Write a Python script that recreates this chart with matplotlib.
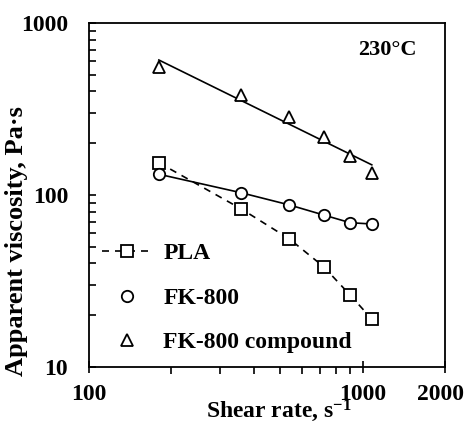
import numpy as np
import matplotlib
matplotlib.use("Agg")
import matplotlib.pyplot as plt
import matplotlib.transforms as mtransforms
from matplotlib.ticker import FixedLocator, NullFormatter, LogLocator

plt.rcParams['font.family'] = ['Liberation Serif', 'DejaVu Serif']
plt.rcParams['font.weight'] = 'bold'
plt.rcParams['axes.labelweight'] = 'bold'
plt.rcParams['mathtext.fontset'] = 'custom'
plt.rcParams['mathtext.rm'] = 'Liberation Serif:bold'
plt.rcParams['mathtext.bf'] = 'Liberation Serif:bold'
plt.rcParams['mathtext.default'] = 'bf'

# shear rate (1/s) and apparent viscosity (Pa.s) at 230 C
shear_rate = [180, 360, 540, 720, 900, 1080]
visc_pla = [154, 83, 55.5, 38.3, 26.2, 19.0]
visc_fk800 = [132, 103, 87.5, 76.5, 69.0, 67.8]
visc_compound = [555, 381, 284, 217, 169, 134]

FS = 17

fig = plt.figure(figsize=(4.65, 4.25), dpi=100)
ax = fig.add_axes([0.1914, 0.1365, 0.7656, 0.8095])

mk = dict(markersize=8.2, markeredgewidth=1.3, markerfacecolor='white',
          markeredgecolor='black', color='black')

ax.plot(shear_rate, visc_pla, linestyle=(0, (4.2, 3.6)), linewidth=1.2,
        marker='s', label='PLA', **mk)
ax.plot(shear_rate, visc_fk800, linestyle='-', linewidth=1.2, marker='o', **mk)
ax.plot([], [], linestyle='none', marker='o', label='FK-800', **mk)

# power-law fit for the compound
x = np.array(shear_rate, dtype=float)
slope, icpt = np.polyfit(np.log10(x), np.log10(visc_compound), 1)
ax.plot(x, 10 ** (icpt + slope * np.log10(x)), color='black', linewidth=1.2, zorder=1)
ax.plot(shear_rate, visc_compound, linestyle='none', marker='^',
        label='FK-800 compound', **mk)

ax.set_xscale('log')
ax.set_yscale('log')
ax.set_xlim(100, 2000)
ax.set_ylim(10, 1000)

ax.xaxis.set_major_locator(FixedLocator([100, 1000, 2000]))
ax.set_xticklabels(['100', '1000', '2000'], fontsize=FS)
ax.xaxis.set_minor_locator(FixedLocator([200, 300, 400, 500, 600, 700, 800, 900]))
ax.xaxis.set_minor_formatter(NullFormatter())
ax.yaxis.set_major_locator(FixedLocator([10, 100, 1000]))
ax.set_yticklabels(['10', '100', '1000'], fontsize=FS)
ax.yaxis.set_minor_locator(LogLocator(base=10, subs=np.arange(2, 10)))
ax.yaxis.set_minor_formatter(NullFormatter())

ax.tick_params(axis='x', which='major', direction='inout', length=8, width=1.2, pad=8)
ax.tick_params(axis='x', which='minor', direction='out', length=5, width=1.2)
ax.tick_params(axis='y', which='both', direction='in', length=5, width=1.2, pad=15)
for s in ax.spines.values():
    s.set_linewidth(1.3)

# keep the last x label inside the figure
last = ax.get_xticklabels()[-1]
last.set_transform(last.get_transform() +
                   mtransforms.ScaledTranslation(-5 / 100, 0, fig.dpi_scale_trans))

ax.set_xlabel(r'Shear rate, s$^{-1}$', fontsize=FS, fontweight='bold')
ax.xaxis.set_label_coords(0.534, -0.088)
ax.set_ylabel('Apparent viscosity, Pa·s', fontsize=19, fontweight='bold')
ax.yaxis.set_label_coords(-0.172, 0.366)

ax.text(0.92, 0.92, '230°C', transform=ax.transAxes, ha='right', va='center',
        fontsize=FS - 1, fontweight='bold')

leg = ax.legend(loc='lower left', bbox_to_anchor=(-0.01, -0.008), frameon=False,
                fontsize=FS, handlelength=2.1, handletextpad=0.5, labelspacing=0.97,
                borderaxespad=0.3)

fig.savefig('out.png', dpi=100)
